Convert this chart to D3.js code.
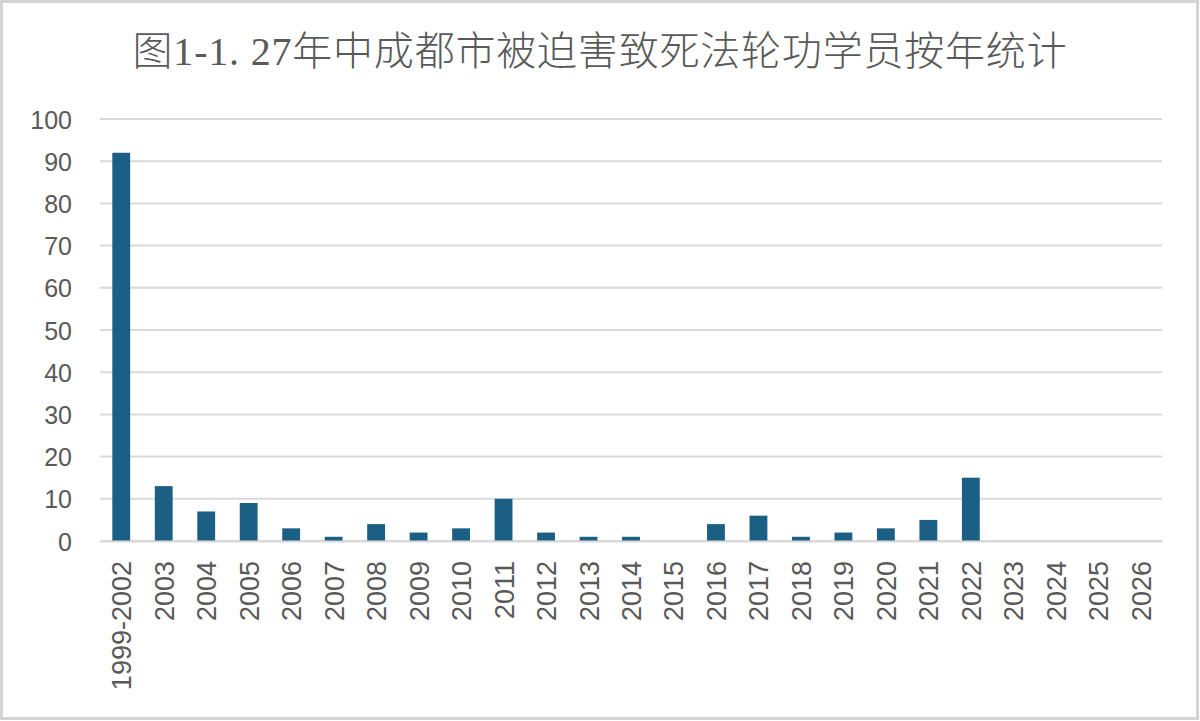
<!DOCTYPE html>
<html>
<head>
<meta charset="utf-8">
<script src="https://cdn.jsdelivr.net/npm/d3@7"></script>
<style>
  body { margin: 0; background: #fff; }
  svg { display: block; }
</style>
</head>
<body>
<div id="chart"></div>
<script>
// data
var years = ["1999-2002", "2003", "2004", "2005", "2006", "2007", "2008", "2009", "2010",
  "2011", "2012", "2013", "2014", "2015", "2016", "2017", "2018", "2019", "2020",
  "2021", "2022", "2023", "2024", "2025", "2026"];
var deaths = [92, 13, 7, 9, 3, 1, 4, 2, 3, 10, 2, 1, 1, 0, 4, 6, 1, 2, 3, 5, 15, 0, 0, 0, 0];
var yTicks = [0, 10, 20, 30, 40, 50, 60, 70, 80, 90, 100];
var title = "图1-1. 27年中成都市被迫害致死法轮功学员按年统计";

var width = 1200, height = 721;
var margin = {top: 119, right: 38, bottom: 180, left: 100};
var textColor = "#595959";
var labelFont = "Liberation Sans, Arial, sans-serif";

var svg = d3.select("#chart").append("svg")
  .attr("width", width)
  .attr("height", height);

// frame round the picture
svg.append("rect")
  .attr("x", 1.5).attr("y", 1.5)
  .attr("width", width - 4).attr("height", height - 4)
  .attr("fill", "#fff")
  .attr("stroke", "#d4d4d4")
  .attr("stroke-width", 3);

var x = d3.scaleBand()
  .domain(years)
  .range([margin.left, width - margin.right])
  .paddingInner(0.58)
  .paddingOuter(0.29);

var y = d3.scaleLinear()
  .domain([0, 100])
  .range([height - margin.bottom, margin.top]);

// gridlines
svg.append("g")
  .selectAll("line")
  .data(yTicks)
  .enter()
  .append("line")
  .attr("x1", margin.left)
  .attr("x2", width - margin.right)
  .attr("y1", function (d) { return y(d); })
  .attr("y2", function (d) { return y(d); })
  .attr("stroke", "#d9d9d9")
  .attr("stroke-width", 2);

// y axis labels
var yAxis = d3.axisLeft(y).tickValues(yTicks).tickSize(0).tickPadding(0);
var gy = svg.append("g")
  .attr("transform", "translate(" + (margin.left - 28) + ",0)")
  .call(yAxis);
gy.select(".domain").remove();
gy.selectAll("text")
  .attr("fill", textColor)
  .attr("dy", "0.36em")
  .style("font-family", labelFont)
  .style("font-size", "25px");

// bars
svg.append("g")
  .selectAll("rect")
  .data(deaths)
  .enter()
  .append("rect")
  .attr("x", function (d, i) { return x(years[i]); })
  .attr("y", function (d) { return y(d); })
  .attr("width", x.bandwidth())
  .attr("height", function (d) { return y(0) - y(d); })
  .attr("fill", "#1b5f84");

// x axis
var xAxis = d3.axisBottom(x).tickSize(0).tickPadding(0);
var gx = svg.append("g")
  .attr("transform", "translate(0," + y(0) + ")")
  .call(xAxis);
gx.select(".domain")
  .attr("stroke", "#d9d9d9")
  .attr("stroke-width", 2);
gx.selectAll("text")
  .attr("fill", textColor)
  .style("font-family", labelFont)
  .style("font-size", "27px")
  .attr("text-anchor", "end")
  .attr("dy", null)
  .attr("y", 0)
  .attr("transform", "translate(10,20) rotate(-90)");

// title
svg.append("text")
  .attr("x", width / 2)
  .attr("y", 65)
  .attr("text-anchor", "middle")
  .attr("fill", textColor)
  .style("font-family", "'Liberation Serif', 'Noto Sans CJK SC', serif")
  .style("font-size", "40px")
  .style("font-weight", 300)
  .style("letter-spacing", "0.8px")
  .text(title);
</script>
</body>
</html>
